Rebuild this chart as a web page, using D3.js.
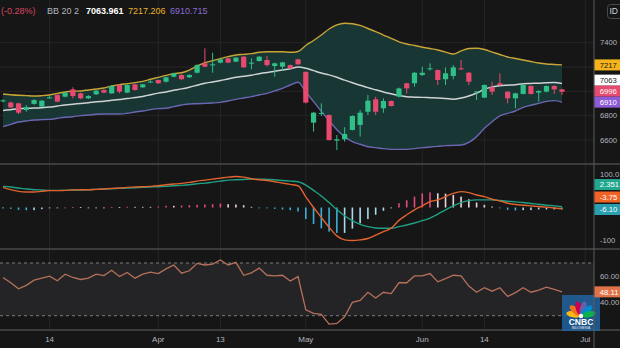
<!DOCTYPE html>
<html><head><meta charset="utf-8">
<script src="https://cdn.jsdelivr.net/npm/d3@7"></script>
<style>
html,body{margin:0;padding:0;background:#161616;}
svg{display:block;}
text{font-family:"Liberation Sans",Arial,sans-serif;}
</style></head><body>
<svg id="chart" width="620" height="348"></svg>
<script>
// Daily candles
const opens  = [6920,6907,6901,6846,6896,6874,6946,6970,6956,7016,6983,6942,6975,7011,6983,7052,6989,7057,7033,7075,7093,7079,7120,7134,7115,7153,7230,7214,7236,7271,7244,7285,7230,7249,7258,7208,7203,7216,7263,7160,6742,6816,6805,6594,6605,6682,6723,6832,6934,6860,6920,6956,7066,7066,7134,7181,7175,7099,7126,7189,7153,6995,6948,7033,7066,6997,6942,6978,7044,6989,6997,7044,7016];
const highs  = [6935,6915,6905,6887,6935,6928,6960,6975,6995,7033,6990,6968,7010,7016,7048,7056,7056,7062,7062,7090,7097,7120,7153,7140,7140,7222,7354,7318,7270,7276,7282,7290,7271,7290,7291,7236,7242,7220,7268,7165,6830,6901,6810,6640,6704,6802,6846,6970,6956,6942,6925,7030,7070,7158,7203,7230,7180,7197,7216,7258,7158,7000,7056,7079,7148,7000,6988,7056,7048,7008,7048,7050,7020];
const lows   = [6910,6860,6813,6832,6890,6870,6940,6910,6950,6942,6935,6936,6970,6985,6980,6983,6985,7005,7028,7070,7060,7072,7115,7095,7110,7148,7198,7153,7230,7232,7240,7192,7181,7245,7203,7120,7170,7185,7218,6900,6668,6797,6595,6517,6586,6678,6627,6805,6805,6824,6875,6950,6983,7038,7126,7170,7052,7052,7099,7175,7052,6928,6944,6970,7044,6901,6860,6974,6974,6915,6992,6978,6970];
const closes = [6925,6868,6824,6868,6928,6923,6950,6915,6989,6961,6942,6961,7005,6989,7044,6997,7052,7011,7057,7080,7066,7115,7148,7099,7134,7216,7203,7222,7263,7236,7277,7197,7236,7285,7216,7230,7238,7189,7222,6907,6824,6822,6599,6605,6649,6797,6824,6923,6832,6920,6879,7024,7024,7153,7153,7189,7093,7148,7197,7181,7079,6999,7052,6997,7052,6942,6983,7052,6978,7003,7044,7015.6,6996];

// Bollinger Bands (20, 2)
const bbUpper  = [6978,6972,6967,6964,6961,6964,6970,6983,6994,7000,7003,7011,7019,7027,7044,7055,7063,7071,7082,7099,7115,7131,7145,7153,7175,7208,7236,7252,7269,7285,7299,7304,7310,7321,7326,7326,7326,7321,7328,7377,7418,7463,7513,7546,7560,7556,7542,7517,7492,7463,7436,7407,7389,7377,7363,7352,7340,7323,7307,7332,7352,7354,7344,7323,7303,7282,7270,7258,7245,7233,7225,7221,7217.206];
const bbMiddle = [6842,6849,6856,6860,6862,6865,6870,6879,6888,6894,6900,6906,6913,6918,6926,6933,6940,6949,6958,6972,6985,6995,7008,7020,7034,7050,7066,7077,7088,7102,7115,7124,7133,7145,7155,7165,7175,7186,7200,7190,7170,7150,7135,7115,7092,7070,7050,7030,7012,6994,6979,6965,6955,6952,6950,6947,6944,6940,6935,6945,6962,6985,7017,7035,7046,7050,7054,7063,7065,7067,7071,7072,7063.961];
const bbLower  = [6709,6728,6747,6756,6764,6767,6769,6778,6786,6791,6800,6805,6811,6813,6813,6813,6819,6830,6838,6849,6857,6860,6874,6887,6896,6898,6901,6904,6909,6920,6934,6945,6956,6970,6983,7003,7024,7052,7074,6995,6915,6835,6760,6684,6627,6586,6564,6544,6536,6528,6522,6522,6522,6528,6536,6542,6547,6553,6555,6558,6580,6627,6695,6750,6797,6819,6838,6868,6885,6901,6917,6923,6910.715];

// MACD (12, 26, 9)
const macdLine   = [61,54,49,47,47,49,51,51,52,53,54,54,55,56,58,59,61,62,63,64,66,69,71,73,76,80,83,86,89,92,94,92,87,84,82,78,74,70,66,32,0,-30,-60,-86,-98,-100,-98,-94,-84,-73,-63,-39,-22,-7,5,18,23,33,43,48,45,38,33,25,20,13,9,7,5,3,1,-1.5,-3.75];
const signalLine = [64,62,59,56,54,53,52,52,52,53,53,54,55,56,57,58,59,60,61,62,63,64,66,67,69,72,74,77,80,83,84,85,86,86,85,84,82,80,78,68,52,35,15,-6,-25,-40,-51,-58,-62,-63,-63,-58,-53,-47,-40,-32,-20,-7,5,15,21,23,23,23,21,19,17,15,12,10,7,5,2.351];
const macdHist   = [-2,-4,-7,-8,-8,-5,-2,-1,0,1,1,0,0,0,1,1,2,2,2,2,3,5,5,6,7,8,9,10,12,10,9,7,2,-1,-2,-4,-6,-8,-12,-35,-50,-63,-73,-77,-77,-64,-48,-35,-22,-10,-2,13,22,33,43,46,43,42,38,33,25,15,8,3,-1,-7,-9,-8,-8,-6,-6,-6,-6.10];

// RSI (14)
const rsiValues = [59,55,50.4,53,57,58.5,60,56.5,61.5,59,57.5,58.5,61.5,60.5,64.5,59.7,62.8,58.5,61.5,63,62,65.5,68.5,62.3,64.1,69.7,68.5,69.2,72.3,68.5,70.5,60.7,62.5,66.1,60.7,60.2,60.7,56.3,59.7,34.4,31.8,31,23.6,24.1,29.2,40.1,41.6,47.8,43.4,47.8,46.8,55,55,60.2,60.2,62,55.7,58.1,60.7,60.2,52.5,47.8,51.2,48.6,51.2,44.7,47.5,51.2,47.8,49.5,51.7,50,48.11];

// Axis ticks
const timeTickIdx  = [6,20,28,39,54,62,75];
const timeTickText = ["14","Apr","13","May","Jun","14","Jul"];
const priceTicks = [6600,6800,7000,7200,7400];
const macdTicks  = [-100,100];
const rsiTicks   = [40,60];
const rsiLevels  = [30,70];

const W = 620, H = 348, axisX = 594;
const mainTop = 0, mainBot = 164, macdTop = 164, macdBot = 249, rsiTop = 249, rsiBot = 330;
const N = closes.length;
const L = N - 1;

const svg = d3.select("#chart");
const x = d3.scaleLinear().domain([0, N - 1]).range([3, 562]);
const py = d3.scaleLinear().domain([6600, 7400]).range([139.9, 42.7]);
const my = d3.scaleLinear().domain([-100, 100]).range([240.5, 174.5]);
const ry = d3.scaleLinear().domain([30, 70]).range([315.7, 263]);

const up = "#30bf86", down = "#e8496e";
const gridCol = "#262626";
const labCol = "#b2b5be";
const axisFont = 7.7;

// trims a label so it stays inside the right edge of the canvas
function fitRight(sel) {
  sel.each(function () {
    const t = d3.select(this);
    const avail = W - (+t.attr("x")) - 0.4;
    let s = t.text();
    while (s.length > 1 && this.getComputedTextLength() > avail) {
      s = s.slice(0, -1);
      t.text(s);
    }
    t.text(s.replace(/\.$/, ""));
  });
}

svg.append("rect").attr("width", W).attr("height", H).attr("fill", "#161616");

const defs = svg.append("defs");
defs.append("clipPath").attr("id", "plot").append("rect").attr("x", 0).attr("y", 0).attr("width", axisX).attr("height", rsiBot);
const plot = svg.append("g").attr("clip-path", "url(#plot)");

// RSI background band
plot.append("rect").attr("x", 0).attr("width", axisX)
  .attr("y", ry(rsiLevels[1])).attr("height", ry(rsiLevels[0]) - ry(rsiLevels[1]))
  .attr("fill", "#242427");

// vertical grid
const tickX = timeTickIdx.map(i => x(i));
[[mainTop, mainBot], [macdTop, macdBot], [rsiTop, rsiBot]].forEach(([a, b]) => {
  plot.append("g").selectAll("line").data(tickX).join("line")
    .attr("x1", d => d).attr("x2", d => d).attr("y1", a).attr("y2", b)
    .attr("stroke", gridCol).attr("stroke-width", 1);
});
// horizontal grid, price pane
plot.append("g").selectAll("line").data(priceTicks).join("line")
  .attr("x1", 0).attr("x2", axisX).attr("y1", d => py(d)).attr("y2", d => py(d))
  .attr("stroke", gridCol).attr("stroke-width", 1);

// Bollinger bands
const idx = d3.range(N);
plot.append("path").datum(idx)
  .attr("d", d3.area().x(i => x(i)).y0(i => py(bbLower[i])).y1(i => py(bbUpper[i])).curve(d3.curveMonotoneX))
  .attr("fill", "#183634");
const bandLine = arr => d3.line().x(i => x(i)).y(i => py(arr[i])).curve(d3.curveMonotoneX);
plot.append("path").datum(idx).attr("d", bandLine(bbLower)).attr("fill", "none").attr("stroke", "#6a66b2").attr("stroke-width", 1.4);
plot.append("path").datum(idx).attr("d", bandLine(bbUpper)).attr("fill", "none").attr("stroke", "#c7a536").attr("stroke-width", 1.4);
plot.append("path").datum(idx).attr("d", bandLine(bbMiddle)).attr("fill", "none").attr("stroke", "#cfd3d6").attr("stroke-width", 1.5);

// candles
const cCol = i => closes[i] >= opens[i] ? up : down;
const cg = plot.append("g").selectAll("g").data(idx).join("g");
cg.append("line")
  .attr("x1", i => x(i)).attr("x2", i => x(i))
  .attr("y1", i => py(highs[i])).attr("y2", i => py(lows[i]))
  .attr("stroke", cCol).attr("stroke-width", 1);
cg.append("rect")
  .attr("x", i => x(i) - 2.6).attr("width", 5.2)
  .attr("y", i => py(Math.max(opens[i], closes[i])))
  .attr("height", i => Math.max(1, Math.abs(py(opens[i]) - py(closes[i]))))
  .attr("fill", cCol);

// MACD histogram
const histCol = i => {
  const v = macdHist[i], p = i > 0 ? macdHist[i - 1] : v;
  if (v >= 0) return v > p ? "#e04a7c" : "#efd2dc";
  return v < p ? "#3bb0d9" : "#a9d9ea";
};
plot.append("g").selectAll("rect").data(idx).join("rect")
  .attr("x", i => x(i) - 0.8).attr("width", 1.6)
  .attr("y", i => Math.min(my(0), my(macdHist[i])))
  .attr("height", i => Math.max(0.8, Math.abs(my(macdHist[i]) - my(0))))
  .attr("fill", histCol);
const mLine = arr => d3.line().x(i => x(i)).y(i => my(arr[i])).curve(d3.curveMonotoneX);
plot.append("path").datum(idx).attr("d", mLine(signalLine)).attr("fill", "none").attr("stroke", "#1fa083").attr("stroke-width", 1.4);
plot.append("path").datum(idx).attr("d", mLine(macdLine)).attr("fill", "none").attr("stroke", "#e0622e").attr("stroke-width", 1.4);

// RSI
plot.append("g").selectAll("line").data(rsiLevels).join("line")
  .attr("x1", 0).attr("x2", axisX).attr("y1", d => ry(d)).attr("y2", d => ry(d))
  .attr("stroke", "#7a7a7a").attr("stroke-width", 1).attr("stroke-dasharray", "3,3");
plot.append("path").datum(idx)
  .attr("d", d3.line().x(i => x(i)).y(i => ry(rsiValues[i])))
  .attr("fill", "none").attr("stroke", "#b5715a").attr("stroke-width", 1.3);

// pane separators
[mainBot, macdBot, rsiBot].forEach(y => {
  svg.append("line").attr("x1", 0).attr("x2", W).attr("y1", y).attr("y2", y)
    .attr("stroke", "#4a4a4a").attr("stroke-width", 1.6);
});

// watermark logo
const logo = svg.append("g");
logo.append("rect").attr("x", 562).attr("y", 295).attr("width", 38).attr("height", 36)
  .attr("fill", "#2266a8").attr("opacity", 0.8);
const petals = ["#fcb711", "#f37021", "#cc004c", "#6460aa", "#0089d0", "#0db14b"];
const fan = logo.append("g").attr("transform", "translate(581,316)");
petals.forEach((c, k) => {
  fan.append("ellipse").attr("cx", 0).attr("cy", -8).attr("rx", 3.1).attr("ry", 7)
    .attr("fill", c).attr("transform", `rotate(${-78 + k * 31.2})`);
});
fan.append("circle").attr("r", 2.2).attr("fill", "#fff");
logo.append("text").attr("x", 581).attr("y", 324.5).attr("text-anchor", "middle")
  .attr("font-size", 8.5).attr("font-weight", "bold").attr("fill", "#fff").text("CNBC");
logo.append("text").attr("x", 581).attr("y", 328.8).attr("text-anchor", "middle")
  .attr("font-size", 3.4).attr("fill", "#e8eef5").text("INDONESIA");

// price axis
svg.append("line").attr("x1", axisX).attr("x2", axisX).attr("y1", 0).attr("y2", H)
  .attr("stroke", "#5a5a5a").attr("stroke-width", 1);

// value tags on the axis, stacked upward when they collide
function placeTags(items, sc, h) {
  items.forEach(t => t.y = sc(t.v));
  items.sort((a, b) => a.y - b.y);
  for (let k = items.length - 2; k >= 0; k--) {
    if (items[k].y > items[k + 1].y - h) items[k].y = items[k + 1].y - h;
  }
  return items;
}
const priceTags = placeTags([
  { v: bbUpper[L], bg: "#f5b31c", fg: "#1a1a1a", d: 3 },
  { v: bbMiddle[L], bg: "#ffffff", fg: "#1a1a1a", d: 3 },
  { v: closes[L], bg: down, fg: "#ffffff", d: 3 },
  { v: bbLower[L], bg: "#8e5bd6", fg: "#ffffff", d: 3 }
], py, 11);
const macdTags = placeTags([
  { v: signalLine[L], bg: "#22a88f", fg: "#ffffff", d: 3 },
  { v: macdLine[L], bg: "#f06325", fg: "#ffffff", d: 3 },
  { v: macdHist[L], bg: "#2a9fb0", fg: "#ffffff", d: 3 }
], my, 12.5);
const rsiTags = placeTags([{ v: rsiValues[L], bg: "#e07248", fg: "#ffffff", d: 2 }], ry, 11);
const allTags = priceTags.concat(macdTags, rsiTags);

// tick labels, skipping those hidden under a tag
const hidden = y => allTags.some(t => Math.abs(t.y - y) < 9);
const axisText = (vals, sc, fmt) => svg.append("g").selectAll("text")
  .data(vals.filter(v => !hidden(sc(v)))).join("text")
  .attr("x", 600).attr("y", d => sc(d)).attr("dy", "0.35em")
  .attr("font-size", axisFont).attr("fill", labCol).text(fmt).call(fitRight);
axisText(priceTicks, py, d => d3.format("d")(d));
axisText(macdTicks, my, d => d.toFixed(2));
axisText(rsiTicks, ry, d => d.toFixed(2));

const tg = svg.append("g").selectAll("g").data(allTags).join("g");
tg.append("rect").attr("x", axisX + 0.5).attr("y", d => d.y - 5.5).attr("width", W - axisX).attr("height", 11)
  .attr("fill", d => d.bg);
tg.append("text").attr("x", 599.8).attr("y", d => d.y).attr("dy", "0.35em")
  .attr("font-size", axisFont).attr("fill", d => d.fg).text(d => d.v.toFixed(d.d)).call(fitRight);

// currency badge
svg.append("rect").attr("x", 607.5).attr("y", 4.5).attr("width", 20).attr("height", 14).attr("rx", 3)
  .attr("fill", "none").attr("stroke", "#4a4a4a");
svg.append("text").attr("x", 609.5).attr("y", 11.5).attr("dy", "0.35em").attr("font-size", 8.5)
  .attr("fill", "#d1d4dc").text("IDR").call(fitRight);

// time axis
svg.append("g").selectAll("text").data(timeTickIdx).join("text")
  .attr("x", d => x(d)).attr("y", 339.5).attr("dy", "0.35em").attr("text-anchor", "middle")
  .attr("font-size", 8).attr("fill", labCol).text((d, k) => timeTickText[k]);

// legend line
const chg = (closes[L] - closes[L - 1]) / closes[L - 1] * 100;
const legend = [
  { x: 1, t: `(${chg.toFixed(2)}%)`, c: "#d9445f", w: "normal" },
  { x: 47, t: "BB 20 2", c: "#b2b5be", w: "normal" },
  { x: 86, t: bbMiddle[L].toFixed(3), c: "#ffffff", w: "bold" },
  { x: 128, t: bbUpper[L].toFixed(3), c: "#e8b32a", w: "normal" },
  { x: 170, t: bbLower[L].toFixed(3), c: "#8c6cd6", w: "normal" }
];
svg.append("g").selectAll("text").data(legend).join("text")
  .attr("x", d => d.x).attr("y", 11).attr("dy", "0.35em").attr("font-size", 9)
  .attr("font-weight", d => d.w).attr("fill", d => d.c).text(d => d.t);
</script>
</body></html>
